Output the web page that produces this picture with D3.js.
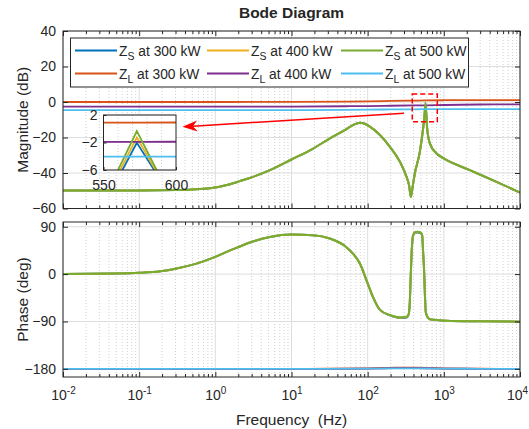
<!DOCTYPE html>
<html><head><meta charset="utf-8">
<script src="https://cdn.jsdelivr.net/npm/d3@7"></script>
<style>
body{margin:0;background:#fff}
svg{display:block}
text{font-family:"Liberation Sans",Arial,Helvetica,sans-serif;fill:#262626}
</style>
</head><body>
<svg id="c" width="529" height="429"></svg>
<script>
// ---------------- DATA ----------------
const titleText = "Bode Diagram";
const xLabel = "Frequency\u00a0 (Hz)";
const magLabel = "Magnitude (dB)";
const phaseLabel = "Phase (deg)";

const xDecades = [1e-2, 1e-1, 1, 10, 100, 1000, 10000];
const magTicks = [40, 20, 0, -20, -40, -60];
const magDomain = [-60, 40];
const phaseTicks = [90, 0, -90, -180];
const phaseDomain = [-195.5, 99];
const insetXTicks = [550, 600];
const insetYTicks = [2, -2, -6];
const insetXDomain = [550, 600];
const insetYDomain = [-6, 2];
const insetMinorX = [560, 570, 580, 590];

// Source impedance Z_S: magnitude (dB)
const freqS = [0.01,0.1,0.3,0.5,0.85,1.56,2.1,2.84,5.2,10,19.3,31.9,50,65,79,90,107,145,196,265,324,350,369,390,416,484,535,555,573,591,604,655,802,1000,2193,4920,10000];
const magS300 = [-49.8,-49.8,-49.6,-49.3,-48.6,-46.3,-44.6,-42.8,-38.4,-32.4,-26.2,-20.5,-15.8,-12.9,-11.7,-12.1,-13.9,-18.6,-25.3,-33.7,-42.2,-47,-53.5,-47.5,-40.3,-28.1,-14.9,-9.2,-2.03,-8.0,-14.9,-23.3,-29,-31.8,-38.4,-45,-51];
const magS400 = [-49.8,-49.8,-49.6,-49.3,-48.6,-46.3,-44.6,-42.8,-38.4,-32.4,-26.2,-20.5,-15.8,-12.9,-11.7,-12.1,-13.9,-18.6,-25.3,-33.7,-42.2,-47,-53.5,-47.5,-40.3,-28.1,-14.9,-8.7,-1.24,-7.9,-14.9,-23.3,-29,-31.8,-38.4,-45,-51];
const magS500 = [-49.8,-49.8,-49.6,-49.3,-48.6,-46.3,-44.6,-42.8,-38.4,-32.4,-26.2,-20.5,-15.8,-12.9,-11.7,-12.1,-13.9,-18.6,-25.3,-33.7,-42.2,-47,-53.5,-47.5,-40.3,-28.1,-14.9,-8.2,-0.33,-7.8,-14.9,-23.3,-29,-31.8,-38.4,-45,-51];

// Z_S phase (deg)
const freqP = [0.01,0.05,0.1,0.19,0.31,0.55,1,1.56,2.1,2.84,5.2,10,19.3,31.9,52,65,79,100,117,145,196,265,324,345,358,368,380,394,420,456,500,520,535,550,565,580,620,655,1070,3000,10000];
const phaseS300 = [0.3,1.2,2.5,5.5,10.8,19.5,32.8,45,52.5,60,70.7,75.2,73.9,67.6,51.7,38,20.2,-17.6,-43,-68,-78.5,-83.5,-82.5,-77.5,-52,-3,47,72,78.5,79,77.5,72.5,40,8,-42,-73,-83,-85.8,-88.4,-89.6,-90.3];
const phaseS400 = [0.3,1.2,2.5,5.5,10.8,19.5,32.8,45,52.5,60,70.7,75.2,73.9,67.6,51.7,38,20.2,-17.6,-43,-68,-78,-82.8,-81.6,-76.8,-51,-1.5,48.5,73,79.2,79.8,78.2,73.2,41,9,-41,-72.5,-83,-85.8,-88.4,-89.6,-90.3];
const phaseS500 = [0.3,1.2,2.5,5.5,10.8,19.5,32.8,45,52.5,60,70.7,75.2,73.9,67.6,51.7,38,20.2,-17.6,-43,-68,-77.6,-82,-80.8,-76,-50,0,50,74,80,80.5,79,74,42,10,-40,-72,-83,-85.8,-88.4,-89.6,-90.3];

// Load impedance Z_L
const freqL = [0.01,1,10,50,100,200,400,573,1000,3000,10000];
const magL300 = [0,0,0.05,0.2,0.35,0.6,0.8,0.9,1.0,1.1,1.1];
const magL400 = [-2.6,-2.6,-2.55,-2.4,-2.3,-2.1,-1.95,-1.9,-1.7,-1.4,-1.3];
const magL500 = [-4.6,-4.6,-4.55,-4.45,-4.35,-4.2,-4.1,-4.06,-4.0,-4.0,-4.0];
const freqLP = [0.01,10,30,100,200,300,450,700,1000,3000,10000];
const phaseL300 = [-180,-180,-179.8,-179,-178,-177.5,-177.8,-178.6,-179.2,-179.8,-180];
const phaseL400 = [-180,-180,-179.9,-179.4,-178.8,-178.5,-178.6,-179.1,-179.5,-179.9,-180];
const phaseL500 = [-180,-180,-179.9,-179.6,-179.3,-179.1,-179.1,-179.4,-179.7,-179.9,-180];

// Legend / series (plot order)
const seriesSym = ["Z","Z","Z","Z","Z","Z"];
const seriesSub = ["S","L","S","L","S","L"];
const seriesRest = [" at 300 kW"," at 300 kW"," at 400 kW"," at 400 kW"," at 500 kW"," at 500 kW"];
const seriesColors = ["#0072BD","#D95319","#EDB120","#7E2F8E","#77AC30","#4DBEEE"];

// Zoom annotation (data coords)
const zoomBoxF = [385, 821];
const zoomBoxDB = [-11.1, 4.5];
const arrowFrom = [300, -6.4];
const arrowTo = [0.37, -14];

// ---------------- BUILD ----------------
const zip = (f, v) => f.map((d, i) => ({f: d, v: v[i]}));
const series = [
  {mag: zip(freqS, magS300), ph: zip(freqP, phaseS300)},
  {mag: zip(freqL, magL300), ph: zip(freqLP, phaseL300)},
  {mag: zip(freqS, magS400), ph: zip(freqP, phaseS400)},
  {mag: zip(freqL, magL400), ph: zip(freqLP, phaseL400)},
  {mag: zip(freqS, magS500), ph: zip(freqP, phaseS500)},
  {mag: zip(freqL, magL500), ph: zip(freqLP, phaseL500)}
].map((s, i) => Object.assign(s, {color: seriesColors[i], sym: seriesSym[i], sub: seriesSub[i], rest: seriesRest[i]}));

const svg = d3.select("#c");
const L = 63, R = 520;
const magTop = 31, magBot = 208.5, phTop = 222, phBot = 377;
const x = d3.scaleLog().domain([xDecades[0], xDecades[xDecades.length-1]]).range([L, R]);
const yM = d3.scaleLinear().domain(magDomain).range([magBot, magTop]);
const yP = d3.scaleLinear().domain(phaseDomain).range([phBot, phTop]);
const minorX = [];
xDecades.slice(0, -1).forEach(d => { for (let k = 2; k <= 9; k++) minorX.push(d * k); });

const AX = "#262626";
const TFS = 14;
const defs = svg.append("defs");

function panel(id, yScale, top, bot, yTicks, key, showXLabels) {
  const g = svg.append("g");
  defs.append("clipPath").attr("id", id).append("rect")
    .attr("x", L).attr("y", top).attr("width", R - L).attr("height", bot - top);
  // grid
  g.append("g").selectAll("line").data(minorX).join("line")
    .attr("x1", d => x(d)).attr("x2", d => x(d)).attr("y1", top).attr("y2", bot)
    .attr("stroke", "#bdbdbd").attr("stroke-width", 0.7).attr("stroke-dasharray", "1,2");
  g.append("g").selectAll("line").data(xDecades).join("line")
    .attr("x1", d => x(d)).attr("x2", d => x(d)).attr("y1", top).attr("y2", bot)
    .attr("stroke", "#dedede").attr("stroke-width", 1);
  g.append("g").selectAll("line").data(yTicks).join("line")
    .attr("x1", L).attr("x2", R).attr("y1", d => yScale(d)).attr("y2", d => yScale(d))
    .attr("stroke", "#dedede").attr("stroke-width", 1);
  // curves
  const line = d3.line().x(d => x(d.f)).y(d => yScale(d.v)).curve(d3.curveMonotoneX);
  const cg = g.append("g").attr("clip-path", `url(#${id})`);
  series.forEach((s, i) => {
    cg.append("path").attr("d", line(s[key])).attr("fill", "none")
      .attr("stroke", s.color).attr("stroke-width", s.sub === "S" ? 2 : 1.8)
      .attr("stroke-linejoin", "round");
  });
  // axes
  const style = sel => { sel.select(".domain").remove(); sel.selectAll("line").attr("stroke", AX); sel.attr("font-family", null).attr("font-size", null); };
  const bMaj = d3.axisBottom(x).tickValues(xDecades).tickSizeInner(-5).tickSizeOuter(0).tickPadding(13).tickFormat(() => "");
  const bg = g.append("g").attr("transform", `translate(0,${bot})`).call(bMaj).call(style);
  if (showXLabels) {
    bg.selectAll(".tick text").attr("font-size", TFS).attr("fill", AX).each(function(d, i, nodes) {
      const t = d3.select(this);
      if (i === nodes.length - 1) t.attr("dx", -3);
      t.append("tspan").text("10");
      t.append("tspan").attr("dy", "-0.55em").attr("font-size", 10).text(Math.round(Math.log10(d)));
    });
  }
  g.append("g").attr("transform", `translate(0,${bot})`)
    .call(d3.axisBottom(x).tickValues(minorX).tickSizeInner(-3).tickSizeOuter(0).tickFormat("")).call(style);
  g.append("g").attr("transform", `translate(0,${top})`)
    .call(d3.axisTop(x).tickValues(xDecades).tickSizeInner(-5).tickSizeOuter(0).tickFormat("")).call(style);
  g.append("g").attr("transform", `translate(0,${top})`)
    .call(d3.axisTop(x).tickValues(minorX).tickSizeInner(-3).tickSizeOuter(0).tickFormat("")).call(style);
  const lg = g.append("g").attr("transform", `translate(${L},0)`)
    .call(d3.axisLeft(yScale).tickValues(yTicks).tickSizeInner(-5).tickSizeOuter(0).tickPadding(7)).call(style);
  lg.selectAll(".tick text").attr("font-size", TFS).attr("fill", AX);
  g.append("g").attr("transform", `translate(${R},0)`)
    .call(d3.axisRight(yScale).tickValues(yTicks).tickSizeInner(-5).tickSizeOuter(0).tickFormat("")).call(style);
  g.append("rect").attr("x", L).attr("y", top).attr("width", R - L).attr("height", bot - top)
    .attr("fill", "none").attr("stroke", AX).attr("stroke-width", 1);
  return g;
}

panel("clipM", yM, magTop, magBot, magTicks, "mag", false);
panel("clipP", yP, phTop, phBot, phaseTicks, "ph", true);

// titles / labels
svg.append("text").attr("x", (L + R) / 2).attr("y", 18).attr("text-anchor", "middle")
  .attr("font-size", 15.5).attr("font-weight", "bold").attr("fill", "#000").text(titleText);
svg.append("text").attr("x", (L + R) / 2).attr("y", 425).attr("text-anchor", "middle")
  .attr("font-size", 15.5).text(xLabel);
svg.append("text").attr("transform", `translate(28,${(magTop + magBot) / 2}) rotate(-90)`)
  .attr("text-anchor", "middle").attr("font-size", 15.5).text(magLabel);
svg.append("text").attr("transform", `translate(28,${(phTop + phBot) / 2}) rotate(-90)`)
  .attr("text-anchor", "middle").attr("font-size", 15.5).text(phaseLabel);

// legend
const lgX = [75, 207, 341], lgY = [50.6, 73.5];
const leg = svg.append("g");
leg.append("rect").attr("x", 70.5).attr("y", 38).attr("width", 398).attr("height", 49)
  .attr("fill", "#fff").attr("stroke", AX).attr("stroke-width", 1);
series.forEach((s, i) => {
  const cx = lgX[Math.floor(i / 2)], cy = lgY[i % 2];
  leg.append("line").attr("x1", cx).attr("x2", cx + 42).attr("y1", cy).attr("y2", cy)
    .attr("stroke", s.color).attr("stroke-width", 2);
  const t = leg.append("text").attr("x", cx + 44).attr("y", cy + 5).attr("font-size", 13.8).attr("fill", "#000");
  t.append("tspan").text(s.sym);
  t.append("tspan").attr("dy", 4.5).attr("font-size", 10.5).text(s.sub);
  t.append("tspan").attr("dy", -4.5).text(s.rest);
});

// zoom box + arrow
const bx0 = x(zoomBoxF[0]), bx1 = x(zoomBoxF[1]), by0 = yM(zoomBoxDB[1]), by1 = yM(zoomBoxDB[0]);
svg.append("rect").attr("x", bx0).attr("y", by0).attr("width", bx1 - bx0).attr("height", by1 - by0)
  .attr("fill", "none").attr("stroke", "#ff0000").attr("stroke-width", 1.5).attr("stroke-dasharray", "5,3");
const ax0 = x(arrowFrom[0]), ay0 = yM(arrowFrom[1]), ax1 = x(arrowTo[0]), ay1 = yM(arrowTo[1]);
const ang = Math.atan2(ay1 - ay0, ax1 - ax0);
const hl = 15, hw = 5.5;
const ux = Math.cos(ang), uy = Math.sin(ang);
const bxp = ax1 - ux * hl, byp = ay1 - uy * hl;
const nxp = ax1 - ux * hl * 0.7, nyp = ay1 - uy * hl * 0.7;
svg.append("line").attr("x1", ax0).attr("y1", ay0).attr("x2", nxp).attr("y2", nyp)
  .attr("stroke", "#ff0000").attr("stroke-width", 1.5);
svg.append("path").attr("d", `M${ax1},${ay1}L${bxp - uy * hw},${byp + ux * hw}L${nxp},${nyp}L${bxp + uy * hw},${byp - ux * hw}Z`)
  .attr("fill", "#ff0000");

// inset
const iL = 103.5, iR = 176, iT = 115, iB = 170;
const ix = d3.scaleLinear().domain(insetXDomain).range([iL, iR]);
const iy = d3.scaleLinear().domain(insetYDomain).range([iB, iT]);
const ig = svg.append("g");
defs.append("clipPath").attr("id", "clipI").append("rect").attr("x", iL).attr("y", iT).attr("width", iR - iL).attr("height", iB - iT);
ig.append("rect").attr("x", iL).attr("y", iT).attr("width", iR - iL).attr("height", iB - iT).attr("fill", "#fff");
ig.append("g").selectAll("line").data(insetMinorX).join("line")
  .attr("x1", d => ix(d)).attr("x2", d => ix(d)).attr("y1", iT).attr("y2", iB)
  .attr("stroke", "#bdbdbd").attr("stroke-width", 0.7).attr("stroke-dasharray", "1,2");
ig.append("g").selectAll("line").data(insetYTicks).join("line")
  .attr("x1", iL).attr("x2", iR).attr("y1", d => iy(d)).attr("y2", d => iy(d))
  .attr("stroke", "#dedede").attr("stroke-width", 1);
const iline = d3.line().x(d => ix(d.f)).y(d => iy(d.v));
const icg = ig.append("g").attr("clip-path", "url(#clipI)");
series.forEach(s => {
  icg.append("path").attr("d", iline(s.mag)).attr("fill", "none")
    .attr("stroke", s.color).attr("stroke-width", 1.8);
});
const istyle = sel => { sel.select(".domain").remove(); sel.selectAll("line").attr("stroke", AX); sel.attr("font-family", null).attr("font-size", null); sel.selectAll(".tick text").attr("font-size", TFS).attr("fill", "#000"); };
ig.append("g").attr("transform", `translate(0,${iB})`)
  .call(d3.axisBottom(ix).tickValues(insetXTicks).tickSizeInner(-3).tickSizeOuter(0).tickPadding(10)).call(istyle);
ig.append("g").attr("transform", `translate(${iL},0)`)
  .call(d3.axisLeft(iy).tickValues(insetYTicks).tickSizeInner(-3).tickSizeOuter(0).tickPadding(6)).call(istyle);
ig.append("rect").attr("x", iL).attr("y", iT).attr("width", iR - iL).attr("height", iB - iT)
  .attr("fill", "none").attr("stroke", AX).attr("stroke-width", 1);
</script>
</body></html>
